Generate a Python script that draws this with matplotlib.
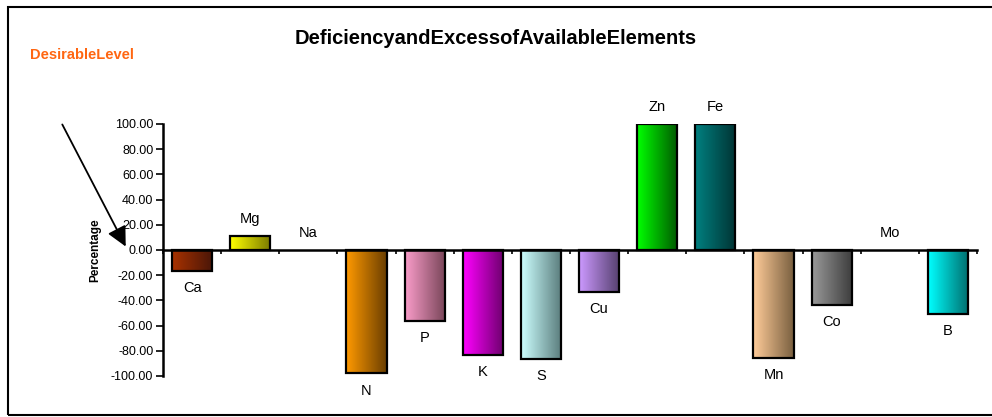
"""
Deficiency and excess of available elements (bar chart with gradient bars)
"""

import matplotlib.pyplot as plt
import matplotlib.colors as mcolors
import matplotlib.patches as mpatches
import numpy as np

plt.rcParams["font.family"] = ["Liberation Sans", "DejaVu Sans"]

# Data
elements = ["Ca", "Mg", "Na", "N", "P", "K", "S", "Cu", "Zn", "Fe", "Mn", "Co", "Mo", "B"]
percentage = [-16.5, 11.0, 0.0, -98.0, -56.0, -83.0, -86.5, -33.5, 100.0, 100.0, -85.5, -43.5, 0.0, -50.5]
light_colors = ["#a83200", "#ffff00", "#ffffff", "#ff9900", "#f99cc9", "#ff00ff", "#ccffff",
                "#cc99ff", "#00ff00", "#008080", "#ffcc99", "#999999", "#ffffff", "#00ffff"]
dark_colors = ["#4a1608", "#7a7a00", "#ffffff", "#6b3f00", "#784558", "#6e006e", "#5a7c7c",
               "#55406e", "#005a00", "#003434", "#7a6040", "#3c3c3c", "#ffffff", "#006e6e"]
yticks = np.arange(-100, 101, 20)

fig = plt.figure(figsize=(9.92, 4.17), dpi=100)
ax = fig.add_axes([163 / 992, 1 - 376 / 417, (977 - 163) / 992, 252 / 417])

x = np.arange(len(elements))
width = 0.69

# Bars with horizontal gradient
for i in range(len(elements)):
    val = percentage[i]
    if val == 0:
        continue
    y0, y1 = min(0, val), max(0, val)
    cmap = mcolors.LinearSegmentedColormap.from_list("g", [light_colors[i], dark_colors[i]])
    grad = np.linspace(0, 1, 64).reshape(1, -1)
    im = ax.imshow(grad, cmap=cmap, aspect="auto", zorder=2,
                   extent=[x[i] - width / 2, x[i] + width / 2, y0, y1])
    rect = mpatches.Rectangle((x[i] - width / 2, y0), width, y1 - y0,
                              facecolor="none", edgecolor="black", linewidth=1.6, zorder=3)
    ax.add_patch(rect)
    im.set_clip_path(rect)

# Category labels above / below bars
for i in range(len(elements)):
    val = percentage[i]
    if val >= 0:
        ax.text(x[i], val + 8, elements[i], ha="center", va="bottom", fontsize=10.5)
    else:
        ax.text(x[i], val - 8, elements[i], ha="center", va="top", fontsize=10.5)

ax.set_xlim(-0.5, len(elements) - 0.5)
ax.set_ylim(-100, 100)
ax.set_yticks(yticks)
ax.set_yticklabels(["%.2f" % v for v in yticks], fontsize=9)
ax.tick_params(axis="y", direction="out", length=5, width=1.2, pad=2)

ax.set_xticks(np.arange(len(elements) + 1) - 0.5)
ax.set_xticklabels([])
ax.tick_params(axis="x", direction="out", length=3, width=1.2)

ax.spines["top"].set_visible(False)
ax.spines["right"].set_visible(False)
ax.spines["left"].set_linewidth(1.8)
ax.spines["bottom"].set_position(("data", 0))
ax.spines["bottom"].set_linewidth(1.8)

# Title and annotations
fig.text(95 / 992, 1 - 250 / 417, "Percentage", rotation=90, ha="center", va="center",
         fontsize=8.5, fontweight="bold")
fig.text(496 / 992, 1 - 39 / 417, "DeficiencyandExcessofAvailableElements",
         ha="center", va="center", fontsize=14.5, fontweight="bold")
fig.text(30 / 992, 1 - 55 / 417, "DesirableLevel", ha="left", va="center",
         fontsize=10.5, fontweight="bold", color="#ff6611")
ax.annotate("", xy=(127 / 992, 1 - 249 / 417), xycoords="figure fraction",
            xytext=(61 / 992, 1 - 122 / 417), textcoords="figure fraction",
            arrowprops=dict(arrowstyle="-|>,head_length=1.2,head_width=0.6",
                            color="black", linewidth=1.3))

# Border
fig.patches.append(mpatches.Rectangle((8 / 992, 2 / 417), 1.0, 408 / 417,
                                      transform=fig.transFigure, facecolor="none",
                                      edgecolor="black", linewidth=1.5))

plt.savefig("out.png", dpi=100)
